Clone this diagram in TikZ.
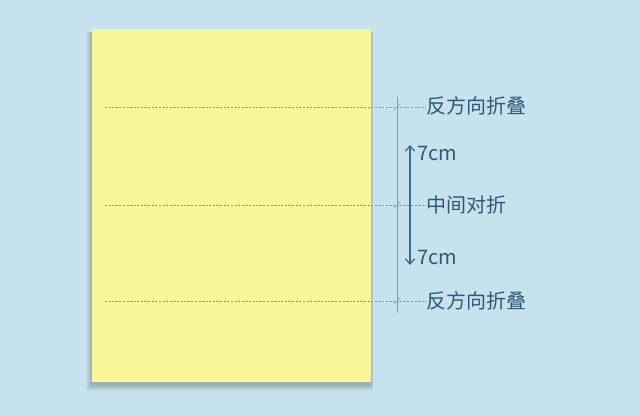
\documentclass[tikz,border=0pt]{standalone}
\usepackage{fontspec}
\setmainfont{Noto Sans CJK SC}
\usetikzlibrary{arrows.meta}
\definecolor{bg}{HTML}{C6E2EC}
\definecolor{paper}{HTML}{F9F697}
\definecolor{ink}{HTML}{2D5878}
\definecolor{guide}{HTML}{8A9AA4}
\definecolor{arrowc}{HTML}{3A6A8C}
\tikzset{
  lbl/.style={font=\fontsize{15pt}{18pt}\selectfont, text=ink, inner sep=0pt, anchor=west},
  fold/.style={guide, densely dashed, line width=0.5pt, dash pattern=on 1.5pt off 1.2pt},
  tick/.style={guide, line width=0.5pt},
}
\begin{document}
\begin{tikzpicture}[x=0.75pt,y=-0.75pt]
\useasboundingbox (0,0) rectangle (640,416);
\fill[bg] (0,0) rectangle (640,416);
% shadow
\foreach \i/\o in {6/0.05,5/0.06,4/0.07,3/0.08,2/0.09,1/0.1}{
  \fill[black!55!bg, opacity=\o] (92-\i,29+3) rectangle (371+\i*0.4,382+\i+3);
}
\fill[paper] (92,29) rectangle (371,382);
% guide line
\coordinate (gt) at (397,97);
\coordinate (gb) at (397,313);
\draw[guide, line width=0.6pt] (gt) -- (gb);
% labels
\node[lbl] (top) at (426,106) {反方向折叠};
\node[lbl] (mid) at (426,205) {中间对折};
\node[lbl] (bot) at (426,301) {反方向折叠};
\node[lbl] (u7) at (417,154) {7cm};
\node[lbl] (d7) at (417,258) {7cm};
% fold lines
\coordinate (ft) at (105,107);
\coordinate (fm) at (105,205);
\coordinate (fb) at (105,301);
\draw[fold] (ft) -- (ft -| top.west);
\draw[fold] (fm) -- (fm -| mid.west);
\draw[fold] (fb) -- (fb -| bot.west);
\foreach \yy in {107,205,301}{
  \draw[tick] (394,\yy+3) -- (400,\yy-3);
}
% arrow
\coordinate (at) at (410,145);
\coordinate (ab) at (410,265);
\draw[arrowc, line width=1.3pt, {Straight Barb[length=4pt,width=7pt,line width=0.9pt]}-{Straight Barb[length=4pt,width=7pt,line width=0.9pt]}] (at) -- (ab);
\end{tikzpicture}
\end{document}
